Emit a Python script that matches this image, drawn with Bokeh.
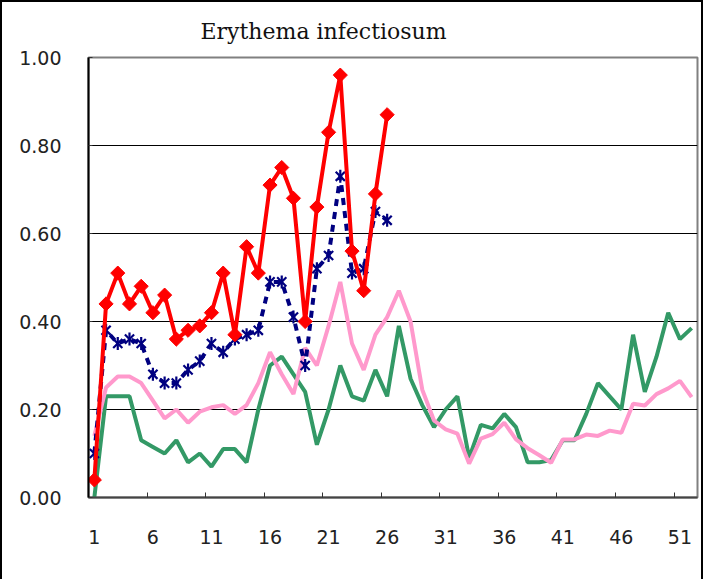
import math
from bokeh.plotting import figure
from bokeh.models import FixedTicker, Range1d
from bokeh.embed import file_html
from bokeh.resources import INLINE

weeks = list(range(1, 53))
weeks_26 = list(range(1, 27))

series_red = [0.04, 0.44, 0.51, 0.44, 0.48, 0.42, 0.46, 0.36, 0.38, 0.39,
              0.42, 0.51, 0.37, 0.57, 0.51, 0.71, 0.75, 0.68, 0.40, 0.66,
              0.83, 0.96, 0.56, 0.47, 0.69, 0.87]
series_navy = [0.10, 0.38, 0.35, 0.36, 0.35, 0.28, 0.26, 0.26, 0.29, 0.31,
               0.35, 0.33, 0.36, 0.37, 0.38, 0.49, 0.49, 0.41, 0.30, 0.52,
               0.55, 0.73, 0.51, 0.52, 0.65, 0.63]
series_pink = [0.14, 0.25, 0.275, 0.275, 0.26, 0.22, 0.18, 0.20, 0.17, 0.195,
               0.205, 0.21, 0.19, 0.21, 0.26, 0.33, 0.28, 0.235, 0.34, 0.30,
               0.39, 0.49, 0.35, 0.29, 0.37, 0.41, 0.47, 0.40, 0.245, 0.175,
               0.155, 0.145, 0.077, 0.134, 0.144, 0.17, 0.132, 0.112, 0.096, 0.079,
               0.132, 0.132, 0.143, 0.14, 0.152, 0.147, 0.213, 0.209, 0.235, 0.248,
               0.265, 0.228]
series_green = [0.00, 0.23, 0.23, 0.23, 0.13, 0.115, 0.10, 0.13, 0.08, 0.10,
                0.07, 0.11, 0.11, 0.08, 0.20, 0.30, 0.32, 0.28, 0.24, 0.12,
                0.20, 0.30, 0.23, 0.22, 0.29, 0.23, 0.39, 0.27, 0.21, 0.16,
                0.20, 0.23, 0.09, 0.165, 0.157, 0.19, 0.16, 0.08, 0.08, 0.085,
                0.13, 0.13, 0.19, 0.26, 0.23, 0.20, 0.37, 0.24, 0.32, 0.42,
                0.36, 0.385]

x_ticks = [1, 6, 11, 16, 21, 26, 31, 36, 41, 46, 51]
x_tick_labels = ["1", "6", "11", "16", "21", "26", "31", "36", "41", "46", "51"]
y_ticks = [0.0, 0.2, 0.4, 0.6, 0.8, 1.0]
y_tick_labels = ["0.00", "0.20", "0.40", "0.60", "0.80", "1.00"]
title_text = "Erythema infectiosum"

p = figure(width=703, height=579, output_backend="svg", toolbar_location=None,
           x_range=Range1d(0.5, 52.5), y_range=Range1d(0, 1),
           min_border_left=86, min_border_right=8, min_border_top=54,
           min_border_bottom=84)
p.styles = {"border-left": "2px solid black", "border-top": "2px solid black",
            "border-right": "2px solid black", "box-sizing": "border-box"}

p.title.text = title_text
p.title.text_font = "DejaVu Serif"
p.title.text_font_size = "22px"
p.title.text_font_style = "normal"
p.title.text_color = "#111111"
p.title.align = "left"
p.title.offset = 112
p.title.standoff = 28

p.background_fill_color = "white"
p.border_fill_color = "white"
p.outline_line_color = "#808080"
p.outline_line_width = 2

# x axis
p.xaxis.ticker = FixedTicker(ticks=x_ticks,
                             minor_ticks=[t - 0.5 for t in x_ticks])
p.xaxis.major_label_overrides = {t: l for t, l in zip(x_ticks, x_tick_labels)}
p.xaxis.major_tick_line_color = None
p.xaxis.minor_tick_line_color = "#333333"
p.xaxis.minor_tick_in = 5
p.xaxis.minor_tick_out = 0
p.xaxis.axis_line_color = "#444444"
p.xaxis.axis_line_width = 2
p.xaxis.major_label_standoff = 26
p.xaxis.major_label_text_font = "DejaVu Sans"
p.xaxis.major_label_text_font_size = "19px"
p.xaxis.major_label_text_color = "#222222"

# y axis
p.yaxis.ticker = FixedTicker(ticks=y_ticks)
p.yaxis.major_label_overrides = {t: l for t, l in zip(y_ticks, y_tick_labels)}
p.yaxis.major_tick_in = 4
p.yaxis.major_tick_out = 0
p.yaxis.major_tick_line_color = "#333333"
p.yaxis.minor_tick_line_color = None
p.yaxis.axis_line_color = "black"
p.yaxis.axis_line_width = 2
p.yaxis.major_label_standoff = 27
p.yaxis.major_label_text_font = "DejaVu Sans"
p.yaxis.major_label_text_font_size = "19px"
p.yaxis.major_label_text_color = "#222222"

p.xgrid.grid_line_color = None
p.ygrid.ticker = FixedTicker(ticks=[0.2, 0.4, 0.6, 0.8])
p.ygrid.grid_line_color = "black"
p.ygrid.grid_line_width = 1

# series
p.line(weeks, series_green, line_color="#339966", line_width=4)
p.line(weeks, series_pink, line_color="#FF99CC", line_width=4)
p.line(weeks_26, series_navy, line_color="#000080", line_width=4,
       line_dash="7 6")
p.scatter(weeks_26, series_navy, marker="x", size=13, line_color="#000080",
          line_width=2.2)
p.scatter(weeks_26, series_navy, marker="dash", angle=math.pi / 2, size=13,
          line_color="#000080", line_width=2.2)
p.line(weeks_26, series_red, line_color="#FF0000", line_width=4)
p.scatter(weeks_26, series_red, marker="square", angle=math.pi / 4, size=10,
          fill_color="#FF0000", line_color="#FF0000")

open("out.html", "w").write(file_html(p, INLINE))
